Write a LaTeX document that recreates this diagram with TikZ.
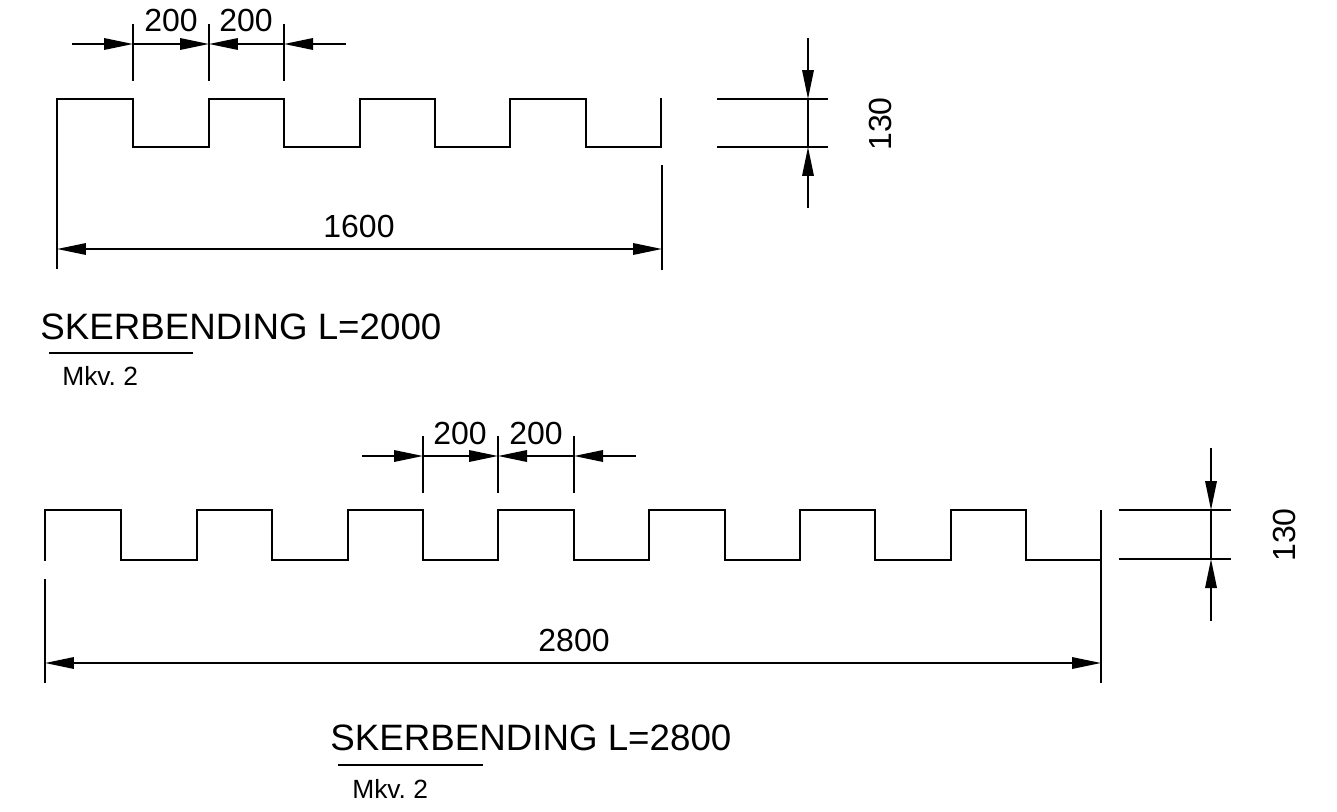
\documentclass[tikz,border=0pt]{standalone}
\usepackage{fontspec}
\setmainfont{Liberation Sans}
\usetikzlibrary{arrows.meta}

\begin{document}
\frenchspacing
\begin{tikzpicture}
	[x=0.02cm,y=-0.02cm]

	\tikzstyle{profile} = [line width=1.4pt,line cap=rect,line join=miter]
	\tikzstyle{dimline} = [line width=1pt]
	\tikzstyle{extline} = [line width=1.2pt]
	\tikzstyle{arrow} = [dimline,-{Triangle[length=0.58cm,width=0.23cm]}]
	\tikzstyle{both} = [dimline,{Triangle[length=0.58cm,width=0.23cm]}-{Triangle[length=0.58cm,width=0.23cm]}]
	\tikzstyle{dimtext} = [inner sep=0pt,anchor=base,font=\fontsize{18.2pt}{20pt}\selectfont]
	\tikzstyle{title} = [inner sep=0pt,anchor=base west,font=\fontsize{20.9pt}{24pt}\selectfont]
	\tikzstyle{scaletext} = [inner sep=0pt,anchor=base west,font=\fontsize{15pt}{16pt}\selectfont]

	\useasboundingbox (0,0) rectangle (1337,811);

	% upper bar
	\draw [profile] (57,268) -- (57,99) -- (133,99)
		\foreach \x/\y in {133/147,209/147,209/99,284/99,284/147,360/147,360/99,435/99,435/147,510/147,510/99,586/99,586/147,661/147,661/99} {-- (\x,\y)};

	% upper pitch
	\coordinate (ua) at (72,44);
	\coordinate (ub) at (133,44);
	\coordinate (uc) at (209,44);
	\coordinate (ud) at (284,44);
	\coordinate (ue) at (346,44);
	\foreach \p in {ub,uc,ud}
		\draw [extline] (\p) ++(0,-20) -- ++(0,57);
	\draw [arrow] (ua) -- (ub);
	\draw [arrow] (ub) -- (uc);
	\draw [arrow] (ud) -- (uc);
	\draw [arrow] (ue) -- (ud);
	\node (upa) [dimtext] at (171,32) {200};
	\node (upb) [dimtext] at (246,32) {200};

	% upper length
	\coordinate (ula) at (57,249);
	\coordinate (ulb) at (662,249);
	\draw [extline] (662,165) -- (662,270);
	\draw [both] (ula) -- (ulb);
	\node (ulen) [dimtext] at (359,237) {1600};

	% upper height
	\coordinate (uha) at (808,99);
	\coordinate (uhb) at (808,147);
	\draw [extline] (717,99) -- (828,99);
	\draw [extline] (717,147) -- (828,147);
	\draw [dimline] (uha) -- (uhb);
	\draw [arrow] (808,38) -- (uha);
	\draw [arrow] (808,208) -- (uhb);
	\node (uhgt) [dimtext,rotate=90,anchor=center] at (880,124) {130};

	\node (utitle) [title] at (40,339) {SKERBENDING L=2000};
	\draw [extline] (49,353) -- (193,353);
	\node (uscale) [scaletext] at (62,385) {Mkv. 2};

	% lower bar
	\draw [profile] (45,560) -- (45,510) -- (121,510)
		\foreach \x/\y in {121/560,197/560,197/510,272/510,272/560,348/560,348/510,423/510,423/560,498/560,498/510,574/510,574/560,649/560,649/510,725/510,725/560,800/560,800/510,875/510,875/560,951/560,951/510,1026/510,1026/560,1101/560} {-- (\x,\y)};

	% lower pitch
	\coordinate (la) at (362,456);
	\coordinate (lb) at (423,456);
	\coordinate (lc) at (498,456);
	\coordinate (ld) at (574,456);
	\coordinate (le) at (636,456);
	\foreach \p in {lb,lc,ld}
		\draw [extline] (\p) ++(0,-20) -- ++(0,57);
	\draw [arrow] (la) -- (lb);
	\draw [arrow] (lb) -- (lc);
	\draw [arrow] (ld) -- (lc);
	\draw [arrow] (le) -- (ld);
	\node (lpa) [dimtext] at (460,444) {200};
	\node (lpb) [dimtext] at (536,444) {200};

	% lower length
	\coordinate (lla) at (45,663);
	\coordinate (llb) at (1101,663);
	\draw [extline] (45,579) -- (45,683);
	\draw [extline] (1101,510) -- (1101,683);
	\draw [both] (lla) -- (llb);
	\node (llen) [dimtext] at (574,651) {2800};

	% lower height
	\coordinate (lha) at (1211,510);
	\coordinate (lhb) at (1211,559);
	\draw [extline] (1119,510) -- (1231,510);
	\draw [extline] (1119,559) -- (1231,559);
	\draw [dimline] (lha) -- (lhb);
	\draw [arrow] (1211,448) -- (lha);
	\draw [arrow] (1211,621) -- (lhb);
	\node (lhgt) [dimtext,rotate=90,anchor=center] at (1284,535) {130};

	\node (ltitle) [title] at (330,750) {SKERBENDING L=2800};
	\draw [extline] (338,765) -- (483,765);
	\node (lscale) [scaletext] at (352,798) {Mkv. 2};

\end{tikzpicture}
\end{document}
